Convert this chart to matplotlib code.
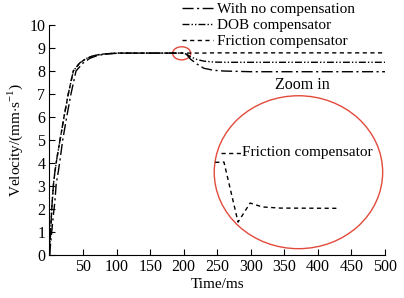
import matplotlib
matplotlib.use('Agg')
import matplotlib.pyplot as plt
from matplotlib.patches import Ellipse

plt.rcParams['font.family'] = ['Liberation Serif', 'DejaVu Serif']
plt.rcParams['mathtext.fontset'] = 'custom'
plt.rcParams['mathtext.rm'] = 'Liberation Serif'

# rise + plateau (ms, mm/s)
tLead = [0, 1, 2, 3, 4, 6, 8, 11, 15.7, 21.6, 28, 35.5, 45, 55, 65, 75, 85, 100, 200]
vLead = [0, 0.6, 1.2, 1.8, 2.3, 3.1, 3.6, 4.2, 5.0, 6.0, 7.0, 8.0, 8.35, 8.55, 8.66, 8.72, 8.75, 8.78, 8.78]
tLag = [0, 2, 4, 6, 8, 10, 13, 16, 19.7, 25.6, 32, 39.5, 50, 60, 70, 80, 90, 105, 200]

# after the disturbance at 200 ms
tAfter = [205, 210, 220, 230, 245, 260, 300, 500]
vNone = [8.70, 8.52, 8.30, 8.12, 8.03, 8.00, 7.97, 7.97]
vDob = [8.72, 8.62, 8.50, 8.43, 8.39, 8.38, 8.38, 8.38]
vFric = [8.78, 8.78, 8.78, 8.78, 8.79, 8.79, 8.79, 8.79]

# zoomed view of the friction compensator curve
tZoom = [247, 260, 281, 299, 317, 344, 429]
vZoom = [4.03, 4.04, 1.43, 2.26, 2.09, 2.04, 2.03]

labels = ['With no compensation', 'DOB compensator', 'Friction compensator']
styles = [(0, (8, 2.5, 1.5, 2.5)), (0, (5, 1.5, 1, 1.5, 1, 1.5)), (0, (3, 2.5))]

fig = plt.figure(figsize=(4.04, 2.98), dpi=100)
ax = fig.add_axes([0.1225, 0.1443, 0.8305, 0.7717])

ax.plot(tLag + tAfter, vLead + vNone, color='black', lw=1, linestyle=styles[0], label=labels[0])
ax.plot(tLead + tAfter, vLead + vDob, color='black', lw=1, linestyle=styles[1], label=labels[1])
ax.plot(tLead + tAfter, vLead + vFric, color='black', lw=1, linestyle=styles[2], label=labels[2])

ax.plot(tZoom, vZoom, color='black', lw=1, linestyle=styles[2])
ax.plot([255, 285], [4.45, 4.45], color='black', lw=1, linestyle=styles[2])
ax.text(287, 4.45, 'Friction compensator', fontsize=11, va='center', ha='left')
ax.text(377, 7.39, 'Zoom in', fontsize=11.5, va='center', ha='center')

red = '#e24a3b'
ax.add_patch(Ellipse((197, 8.77), 27, 0.57, fill=False, edgecolor=red, lw=1))
ax.add_patch(Ellipse((371, 3.6), 251, 6.65, fill=False, edgecolor=red, lw=1))

ax.set_xlim(0, 500)
ax.set_ylim(0, 10)
ax.set_xticks(range(50, 501, 50))
ax.set_yticks(range(0, 11))
ax.tick_params(direction='in', length=4, labelsize=11.5, pad=3)
ax.spines['top'].set_visible(False)
ax.spines['right'].set_visible(False)
ax.set_xlabel('Time/ms', fontsize=11, labelpad=2)
ax.set_ylabel(r'Velocity/(mm$\cdot$s$^{-1}$)', fontsize=11, labelpad=3)

ax.legend(loc='upper left', bbox_to_anchor=(180 / 404, 1.0), bbox_transform=fig.transFigure,
          frameon=False, fontsize=11, handlelength=2.0, handletextpad=0.3,
          labelspacing=0.15, borderaxespad=0, borderpad=0.15)

fig.savefig('out.png', dpi=100)
